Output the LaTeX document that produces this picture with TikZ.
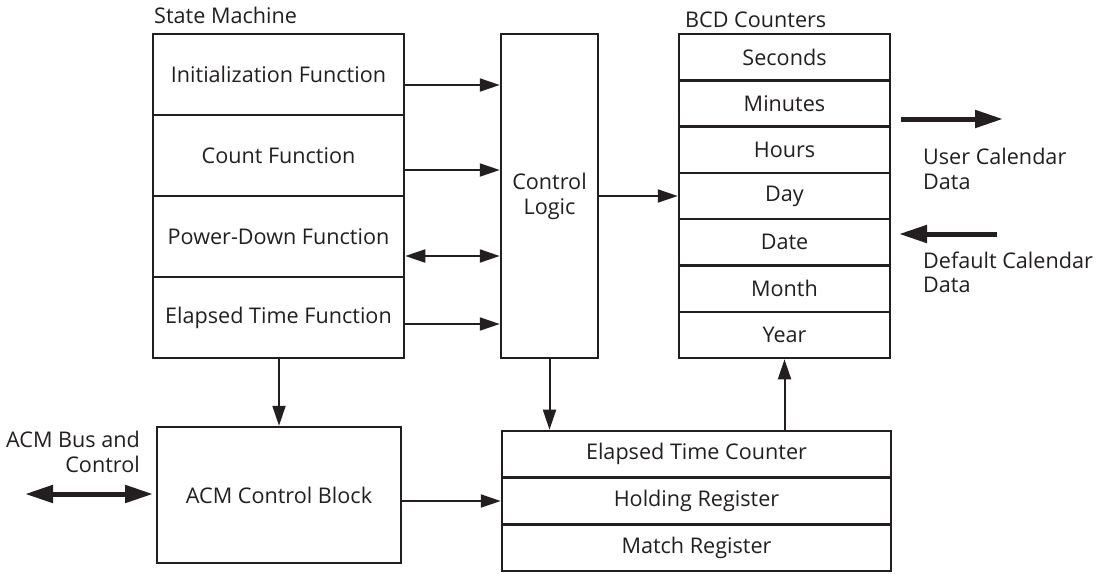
\documentclass[tikz,border=0pt]{standalone}
\usepackage{fontspec}
\setmainfont{Open Sans}
\usetikzlibrary{arrows.meta}
\definecolor{ink}{HTML}{231F20}
\newcommand\dfont{\fontsize{21.6}{25}\selectfont}
\begin{document}
\begin{tikzpicture}[x=1pt,y=-1pt,
  cell/.style={draw=ink, line width=2.5pt, inner sep=0pt, text=ink, font=\dfont, align=center},
  smcell/.style={cell, minimum width=251pt, minimum height=81pt},
  bcdcell/.style={cell, minimum width=211pt, minimum height=46.3pt},
  regcell/.style={cell, minimum width=389pt, minimum height=46.7pt},
  lbl/.style={text=ink, font=\dfont, inner sep=0pt},
  arr/.style={draw=ink, line width=2pt, -{Triangle[length=20pt,width=13pt]}},
  darr/.style={draw=ink, line width=2pt, {Triangle[length=20pt,width=13pt]}-{Triangle[length=20pt,width=13pt]}},
  tarr/.style={draw=ink, line width=5pt, -{Triangle[length=28pt,width=17pt]}},
  tdarr/.style={draw=ink, line width=5pt, {Triangle[length=28pt,width=17pt]}-{Triangle[length=28pt,width=17pt]}}]
\useasboundingbox[fill=white] (0,0) rectangle (1097,573);

% State machine
\node[smcell] (init) at (278.5,74.5) {Initialization Function};
\node[smcell] (count) at (278.5,155.5) {Count Function};
\node[smcell] (power) at (278.5,236.5) {Power-Down Function};
\node[smcell] (elap) at (278.5,317.5) {Elapsed Time Function};
\node[lbl, anchor=base west] (smlbl) at (154,23) {State Machine};

% Control logic
\node[cell, minimum width=97pt, minimum height=324pt] (cl) at (549.5,196) {Control\\Logic};

% BCD counters
\node[bcdcell] (sec) at (784.5,57.1) {Seconds};
\node[bcdcell] (min) at (784.5,103.4) {Minutes};
\node[bcdcell] (hrs) at (784.5,149.7) {Hours};
\node[bcdcell] (day) at (784.5,196) {Day};
\node[bcdcell] (date) at (784.5,242.3) {Date};
\node[bcdcell] (mon) at (784.5,288.6) {Month};
\node[bcdcell] (year) at (784.5,334.9) {Year};
\node[lbl, anchor=base west] (bcdlbl) at (685,27) {BCD Counters};

% ACM control block
\node[cell, minimum width=244pt, minimum height=136pt] (acm) at (279,495) {ACM Control Block};
\node[lbl, anchor=base east] (acml1) at (140,447) {ACM Bus and};
\node[lbl, anchor=base east] (acml2) at (140,472) {Control};

% Registers
\node[regcell] (etc) at (696.5,454.3) {Elapsed Time Counter};
\node[regcell] (hold) at (696.5,501) {Holding Register};
\node[regcell] (match) at (696.5,547.7) {Match Register};

% Right labels
\node[lbl, anchor=base west] (ucd1) at (923,164) {User Calendar};
\node[lbl, anchor=base west] (ucd2) at (923,189) {Data};
\node[lbl, anchor=base west] (dcd1) at (923,268) {Default Calendar};
\node[lbl, anchor=base west] (dcd2) at (923,292) {Data};

% Connectors
\coordinate (r1) at (0,85);
\coordinate (r2) at (0,170);
\coordinate (r3) at (0,256);
\coordinate (r4) at (0,324);
\draw[arr] (init.east |- r1) -- (cl.west |- r1);
\draw[arr] (count.east |- r2) -- (cl.west |- r2);
\draw[darr] (power.east |- r3) -- (cl.west |- r3);
\draw[arr] (elap.east |- r4) -- (cl.west |- r4);
\draw[arr] (cl.east |- day) -- (day.west);
\draw[arr] (elap.south -| acm.north) -- (acm.north);
\draw[arr] (cl.south) -- (cl.south |- etc.north);
\draw[arr] (etc.north -| year.south) -- (year.south);
\draw[arr] (acm.east |- hold) -- (hold.west);

\coordinate (u1) at (901,119);
\coordinate (u2) at (1003,119);
\coordinate (d1) at (997,234);
\coordinate (d2) at (899,234);
\coordinate (b1) at (25,494);
\coordinate (b2) at (153,494);
\draw[tarr] (u1) -- (u2);
\draw[tarr] (d1) -- (d2);
\draw[tdarr] (b1) -- (b2);
\end{tikzpicture}
\end{document}
